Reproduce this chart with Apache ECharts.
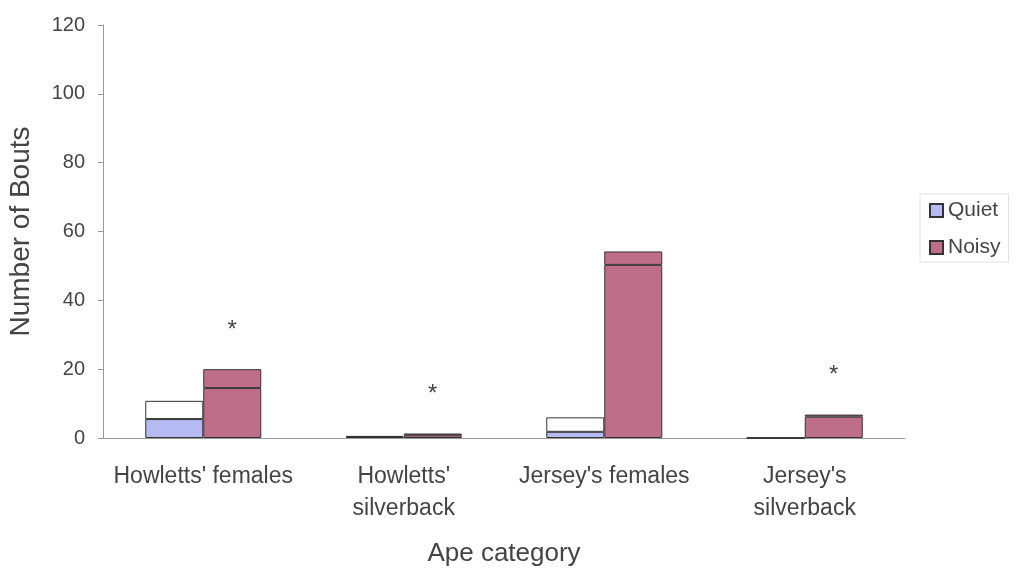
<!DOCTYPE html>
<html>
<head>
<meta charset="utf-8">
<script src="https://cdn.jsdelivr.net/npm/echarts@6/dist/echarts.min.js"></script>
<style>html,body{margin:0;padding:0;background:#fff}#c{width:1017px;height:569px}</style>
</head>
<body>
<div id="c"></div>
<script>
const categories = ["Howletts' females", "Howletts'\nsilverback", "Jersey's females", "Jersey's\nsilverback"];
const quietMean = [5.5, 0.3, 1.8, 0];
const quietErr = [5.3, 0.3, 4.2, 0];
const noisyMean = [14.5, 0.8, 50.3, 6.2];
const noisyErr = [5.5, 0.5, 3.9, 0.6];
const significance = ['*', '*', '', '*'];
const yTicks = [0, 20, 40, 60, 80, 100, 120];

const QUIET = '#b6baf2', NOISY = '#bf6e8a', EDGE = '#333';
const font = 'Liberation Sans, Arial, sans-serif';
const chart = echarts.init(document.getElementById('c'));
const bw = 58;
chart.setOption({
  animation: false,
  textStyle: {fontFamily: font},
  grid: {left: 103, right: 112, top: 25, bottom: 131, outerBoundsMode: 'none', containLabel: false},
  legend: {
    data: ['Quiet', 'Noisy'],
    orient: 'vertical', left: 920, top: 194,
    itemWidth: 13, itemHeight: 13, itemGap: 16,
    icon: 'rect',
    textStyle: {fontSize: 21, color: '#444', fontFamily: font},
    borderColor: '#e2e2e2', borderWidth: 1, padding: [6, 8, 4, 9],
    selectedMode: false
  },
  xAxis: {
    type: 'category', data: categories,
    name: 'Ape category', nameLocation: 'middle', nameGap: 103,
    nameTextStyle: {fontSize: 26, color: '#444', fontFamily: font},
    axisLine: {lineStyle: {color: '#999'}},
    axisTick: {show: false},
    axisLabel: {fontSize: 23, color: '#444', lineHeight: 32, margin: 23, interval: 0}
  },
  yAxis: {
    type: 'value', min: 0, max: 120, interval: 20,
    name: 'Number of Bouts', nameLocation: 'middle', nameGap: 68,
    nameTextStyle: {fontSize: 28, color: '#444', fontFamily: font},
    axisLine: {show: true, lineStyle: {color: '#999'}},
    axisTick: {show: true, length: 5, lineStyle: {color: '#999'}},
    splitLine: {show: false},
    axisLabel: {fontSize: 20, color: '#444', margin: 18,
      formatter: v => yTicks.includes(v) ? String(v) : ''}
  },
  series: [
    {name: 'Quiet', type: 'bar', stack: 'q', barWidth: bw, barGap: '0%', data: quietMean,
      itemStyle: {color: QUIET, borderColor: EDGE, borderWidth: 1}},
    {name: 'QuietErr', type: 'bar', stack: 'q', barWidth: bw, barGap: '0%', data: quietErr,
      itemStyle: {color: '#fff', borderColor: EDGE, borderWidth: 1}},
    {name: 'Noisy', type: 'bar', stack: 'n', barWidth: bw, barGap: '0%', data: noisyMean,
      itemStyle: {color: NOISY, borderColor: EDGE, borderWidth: 1}},
    {name: 'NoisyErr', type: 'bar', stack: 'n', barWidth: bw, barGap: '0%', data: noisyErr,
      itemStyle: {color: NOISY, borderColor: EDGE, borderWidth: 1},
      label: {show: true, position: 'top', distance: 27, fontSize: 24, color: '#444',
        formatter: p => significance[p.dataIndex]}}
  ]
});
</script>
</body>
</html>
